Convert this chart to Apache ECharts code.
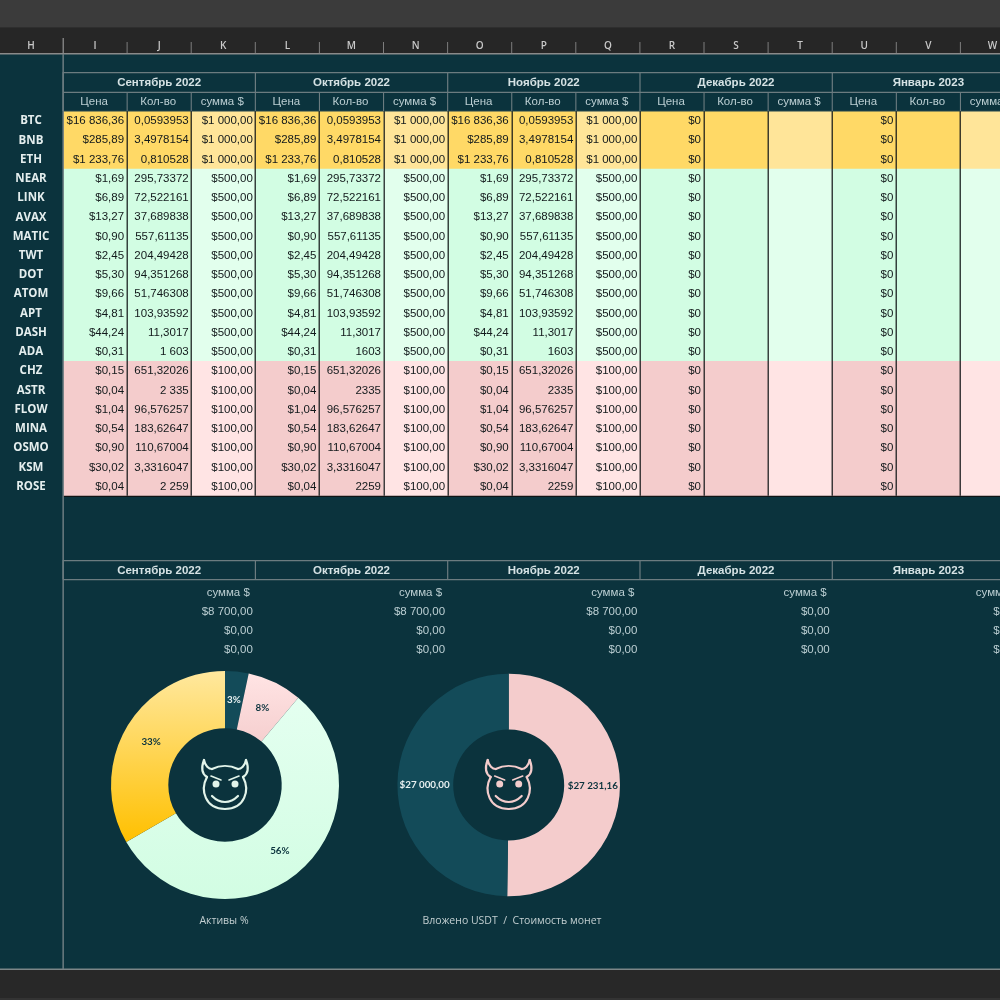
<!DOCTYPE html>
<html><head><meta charset="utf-8">
<style>html,body{margin:0;padding:0;background:#0b333d}#c{width:1000px;height:1000px}</style>
<script src="https://cdn.jsdelivr.net/npm/echarts@6/dist/echarts.min.js"></script>
</head><body><div id="c"></div>
<script>
const colLetters = ['I','J','K','L','M','N','O','P','Q','R','S','T','U','V','W'];
const months = ['Сентябрь 2022','Октябрь 2022','Ноябрь 2022','Декабрь 2022','Январь 2023'];
const subHeads = ['Цена','Кол-во','сумма $'];
const coins = ['BTC','BNB','ETH','NEAR','LINK','AVAX','MATIC','TWT','DOT','ATOM','APT','DASH','ADA','CHZ','ASTR','FLOW','MINA','OSMO','KSM','ROSE'];
const prices = ['$16 836,36','$285,89','$1 233,76','$1,69','$6,89','$13,27','$0,90','$2,45','$5,30','$9,66','$4,81','$44,24','$0,31','$0,15','$0,04','$1,04','$0,54','$0,90','$30,02','$0,04'];
const qtySep = ['0,0593953','3,4978154','0,810528','295,73372','72,522161','37,689838','557,61135','204,49428','94,351268','51,746308','103,93592','11,3017','1 603','651,32026','2 335','96,576257','183,62647','110,67004','3,3316047','2 259'];
const qtyLater = ['0,0593953','3,4978154','0,810528','295,73372','72,522161','37,689838','557,61135','204,49428','94,351268','51,746308','103,93592','11,3017','1603','651,32026','2335','96,576257','183,62647','110,67004','3,3316047','2259'];
const sums = ['$1 000,00','$1 000,00','$1 000,00','$500,00','$500,00','$500,00','$500,00','$500,00','$500,00','$500,00','$500,00','$500,00','$500,00','$100,00','$100,00','$100,00','$100,00','$100,00','$100,00','$100,00'];
const emptyPrice = '$0';
const summaryHead = 'сумма $';
const summaryByMonth = [
  ['$8 700,00','$0,00','$0,00'],
  ['$8 700,00','$0,00','$0,00'],
  ['$8 700,00','$0,00','$0,00'],
  ['$0,00','$0,00','$0,00'],
  ['$0,00','$0,00','$0,00']
];
const assetNames = ['USDT','Low','Mid','Top'];
const assetValues = [300,700,5000,3000];
const investNames = ['Стоимость монет','Вложено USDT'];
const investValues = [27231.16,27000];
const investLabels = ['$27 231,16','$27 000,00'];
const pieTitle1 = 'Активы %';
const pieTitle2 = 'Вложено USDT  /  Стоимость монет';

const BG='#0b333d', GRID='#6c7c80', HDR='#d5e2e4', SUB='#bccfd3', INK='#12191b';
const X0=63, CW=64.1, Y0=111, RH=19.24;
const SANS='"Liberation Sans",Arial,sans-serif', UI='"Open Sans",sans-serif';
const g=[];
const rect=(x,y,w,h,fill)=>g.push({type:'rect',silent:true,shape:{x,y,width:w,height:h},style:{fill}});
const text=(x,y,t,o={})=>g.push({type:'text',silent:true,x,y,style:{text:t,textAlign:o.a||'center',textVerticalAlign:'middle',fill:o.c||INK,font:(o.w||'normal')+' '+(o.s||11.5)+'px '+(o.f||SANS)}});
const colX=i=>X0+i*CW;

// chrome
rect(0,0,1000,27,'#3b3b3b');
rect(0,27,1000,1,'#2e2e2e');
rect(0,28,1000,26,'#262626');
rect(0,969,1000,31,'#282828');
rect(0,998,1000,2,'#333333');
rect(0,53,1000,1.4,'#8a8a8a');
rect(0,968.6,1000,1.4,'#7d8688');
text(31,46,'H',{c:'#c9c9c9',s:10,w:'600',f:UI});
colLetters.forEach((l,i)=>{
  text(colX(i)+CW/2,46,l,{c:'#c9c9c9',s:10,w:'600',f:UI});
  rect(colX(i)-0.5,i===0?38:42,i===0?1.5:1,i===0?15:11,'#7d7d7d');
});
rect(colX(15)-0.5,42,1,11,'#7d7d7d');

// data cells
const rowColor=(r,sum)=> r<3 ? (sum?'#ffe599':'#ffd966') : r<13 ? (sum?'#e2ffed':'#d2fde3') : (sum?'#ffe4e4':'#f4cccc');
for(let c=0;c<15;c++){
  const isSum=c%3===2;
  [[0,3],[3,13],[13,20]].forEach(([a,b])=>{
    rect(colX(c),Y0+a*RH,CW+0.5,(b-a)*RH+0.3,rowColor(a,isSum));
  });
}
coins.forEach((coin,r)=>{
  const y=Y0+r*RH+RH/2+0.4;
  text(31,y,coin,{c:'#e4eeee',w:'bold',s:11.5,f:UI});
  months.forEach((m,mi)=>{
    const base=mi*3;
    const filled=mi<3;
    text(colX(base+1)-3,y,filled?prices[r]:emptyPrice,{a:'right'});
    if(filled){
      text(colX(base+2)-2.5,y,(mi===0?qtySep:qtyLater)[r],{a:'right'});
      text(colX(base+3)-2.5,y,sums[r],{a:'right'});
    }
  });
});
// black column separators in the data block
for(let c=1;c<=15;c++){ rect(Math.round(colX(c))-0.4,Y0,1.2,20*RH,'#101415'); }
rect(X0,Y0+20*RH,1000-X0,1.2,'#101415');

// table header
rect(X0,72,1000-X0,1.3,GRID);
rect(X0,91.7,1000-X0,1.2,GRID);
rect(X0,110.4,1000-X0,1,'#25464e');
months.forEach((m,mi)=>{
  text(colX(mi*3)+1.5*CW,82.8,m,{c:HDR,w:'bold',s:11.5});
  rect(colX(mi*3)-0.5,72,1.2,20,GRID);
  subHeads.forEach((s,si)=>{
    text(colX(mi*3+si)+CW/2-1,102,s,{c:SUB,s:11.5});
    rect(colX(mi*3+si)-0.5,92,1.1,19,GRID);
  });
});

// lower block
rect(X0,560,1000-X0,1.2,GRID);
rect(X0,579,1000-X0,1.2,GRID);
months.forEach((m,mi)=>{
  text(colX(mi*3)+1.5*CW,570.5,m,{c:HDR,w:'bold',s:11.5});
  rect(colX(mi*3)-0.5,560,1.2,19.5,GRID);
  const right=colX(mi*3+3)-2.5;
  text(right-3,592.6,summaryHead,{a:'right',c:SUB});
  summaryByMonth[mi].forEach((v,i)=>text(right,611.6+i*19.24,v,{a:'right',c:SUB}));
});
rect(62.4,54,1.5,915,GRID);

// pie captions
text(224,921,pieTitle1,{c:'#c3cfd1',s:10.5,f:UI});
text(512,921,pieTitle2,{c:'#c3cfd1',s:10.5,f:UI});

// devil icons (relative strokes: start, control 1, control 2, end)
const devilCurves=[
  [-21,-25,-24,-17,-23,-11,-18,-8],[-18,-8,-25,5,-20,24,0,24],[0,24,20,24,25,5,18,-8],[18,-8,23,-11,24,-17,21,-25],
  [21,-25,20,-19,16,-16,13,-16],[13,-16,5,-20,-5,-20,-13,-16],[-13,-16,-16,-16,-20,-19,-21,-25],
  [-13,11,-5,19,5,19,13,11]
];
const devilLines=[[-14,-9,-4,-5],[14,-9,4,-5]];
[[225,785,'#e2f4ea'],[508.7,785,'#f4cccc']].forEach(([x,y,c])=>{
  const st={fill:null,stroke:c,lineWidth:2.2,lineCap:'round'};
  devilCurves.forEach(p=>g.push({type:'bezierCurve',silent:true,x,y,shape:{x1:p[0],y1:p[1],cpx1:p[2],cpy1:p[3],cpx2:p[4],cpy2:p[5],x2:p[6],y2:p[7]},style:st}));
  devilLines.forEach(p=>g.push({type:'line',silent:true,x,y,shape:{x1:p[0],y1:p[1],x2:p[2],y2:p[3]},style:Object.assign({},st,{lineWidth:1.6})}));
  g.push({type:'circle',silent:true,shape:{cx:x-9,cy:y-1,r:3.5},style:{fill:c}});
  g.push({type:'circle',silent:true,shape:{cx:x+10,cy:y-1,r:3.5},style:{fill:c}});
});

const grad=(a,b)=>({type:'linear',x:0,y:0,x2:0,y2:1,colorStops:[{offset:0,color:a},{offset:1,color:b}]});
const assetStyles=[
  {color:'#134b59',label:'#e8f1f1'},
  {color:grad('#ffe4e4','#f6cfcf'),label:'#0b333d'},
  {color:grad('#e4fff0','#d2fde3'),label:'#0b333d'},
  {color:grad('#ffe89e','#ffc000'),label:'#0b333d'}
];
const investStyles=[{color:'#f4cccc',label:'#0b333d'},{color:'#134b59',label:'#e8f1f1'}];
const labelFont={fontFamily:'Lato,sans-serif',fontSize:9.8,fontWeight:'bold'};
const pieBase={type:'pie',startAngle:90,clockwise:true,avoidLabelOverlap:false,silent:true,animation:false,
  labelLine:{show:false},emphasis:{disabled:true}};
// nudge the inside labels back toward the ring's middle
const pullIn=(cx,cy,k)=>p=>{
  const lx=p.labelRect.x+p.labelRect.width/2-cx, ly=p.labelRect.y+p.labelRect.height/2-cy, d=Math.hypot(lx,ly)||1;
  return {dx:-k*lx/d,dy:-k*ly/d};
};

const chart=echarts.init(document.getElementById('c'));
chart.setOption({
  animation:false,
  backgroundColor:BG,
  graphic:{elements:g},
  series:[
    Object.assign({},pieBase,{center:[225,785],radius:[56.7,114],labelLayout:pullIn(225,785,3),
      data:assetValues.map((v,i)=>({name:assetNames[i],value:v,itemStyle:{color:assetStyles[i].color},
        label:Object.assign({show:true,position:'inside',color:assetStyles[i].label,formatter:p=>Math.round(p.percent)+'%'},labelFont)}))}),
    Object.assign({},pieBase,{center:[508.7,785],radius:[55.5,111.3],labelLayout:pullIn(508.7,785,2.3),
      data:investValues.map((v,i)=>({name:investNames[i],value:v,itemStyle:{color:investStyles[i].color},
        label:Object.assign({show:true,position:'inside',color:investStyles[i].label,formatter:investLabels[i]},labelFont)}))})
  ]
});
</script></body></html>
